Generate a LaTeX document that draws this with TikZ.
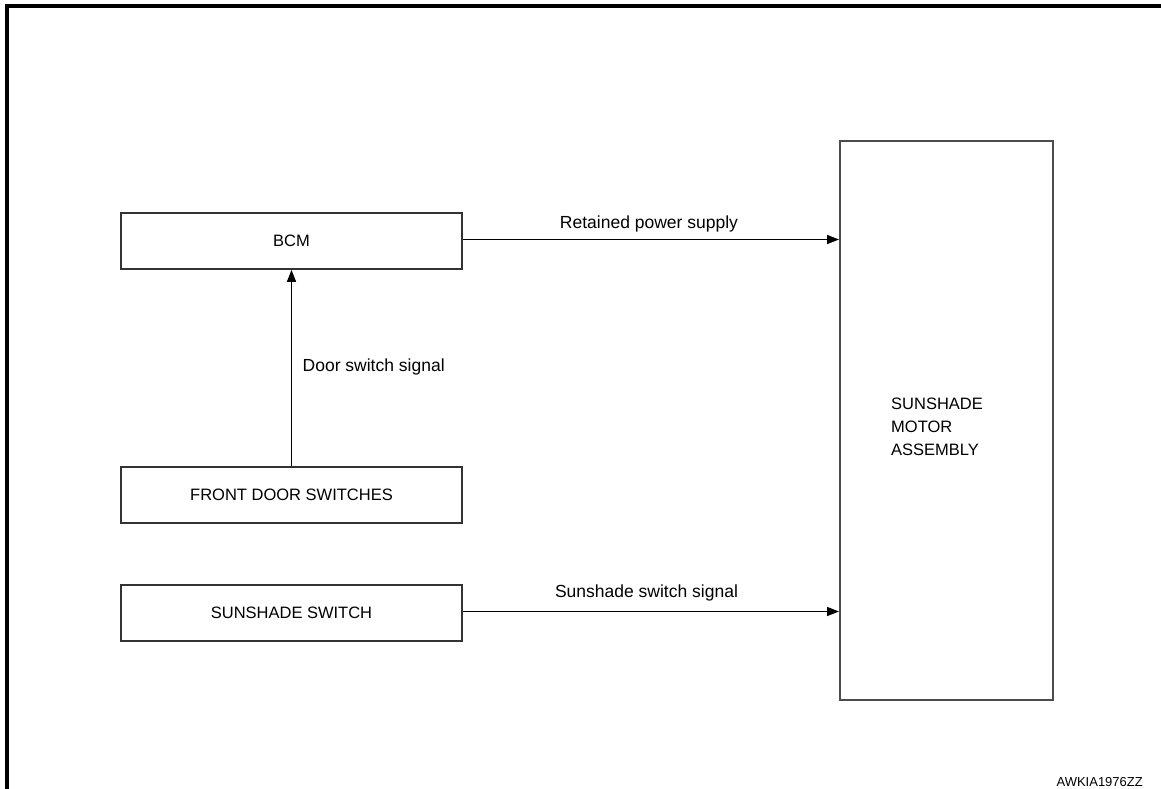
\documentclass[tikz,border=0pt]{standalone}
\usepackage{fontspec}
\setmainfont{Liberation Sans}
\usetikzlibrary{arrows.meta}
\begin{document}
\begin{tikzpicture}[x=1pt,y=-1pt,
  box/.style={draw=black!80,line width=1.7pt,rectangle,minimum width=341pt,minimum height=56pt,inner sep=0pt,font=\fontsize{16.5}{20}\selectfont},
  bigbox/.style={draw=black!70,line width=2pt,rectangle,minimum width=213pt,minimum height=559pt,inner sep=0pt},
  lbl/.style={font=\fontsize{17.5}{21}\selectfont,inner sep=0pt},
  arr/.style={line width=1.5pt,-{Triangle[length=12pt,width=9pt]}}]
\useasboundingbox (0,0) rectangle (1161,788);
\fill[white] (0,0) rectangle (1161,788);
\draw[line width=3.4pt] (7,790) -- (7,6) -- (1163,6);
\node[box] (bcm) at (291.5,241) {BCM};
\node[box] (fds) at (291.5,495) {FRONT DOOR SWITCHES};
\node[box] (sws) at (291.5,613) {SUNSHADE SWITCH};
\node[bigbox] (motor) at (946.5,420.5) {};
\node[anchor=west,align=left,inner sep=0pt,font=\fontsize{16.5}{23}\selectfont] (motortext) at (891,427) {SUNSHADE\\MOTOR\\ASSEMBLY};
\draw[arr] ([yshift=1.5pt]bcm.east) -- ([yshift=1.5pt]bcm.east -| motor.west);
\draw[arr] ([yshift=1.5pt]sws.east) -- ([yshift=1.5pt]sws.east -| motor.west);
\draw[arr] (fds.north) -- (bcm.south);
\node[lbl] (l1) at (649,224) {Retained power supply};
\node[lbl] (l2) at (646.5,593) {Sunshade switch signal};
\node[lbl,anchor=west] (l3) at (302.5,367) {Door switch signal};
\node[anchor=base east,inner sep=0pt,font=\fontsize{13}{15}\selectfont] (code) at (1143,786) {AWKIA1976ZZ};
\end{tikzpicture}
\end{document}
